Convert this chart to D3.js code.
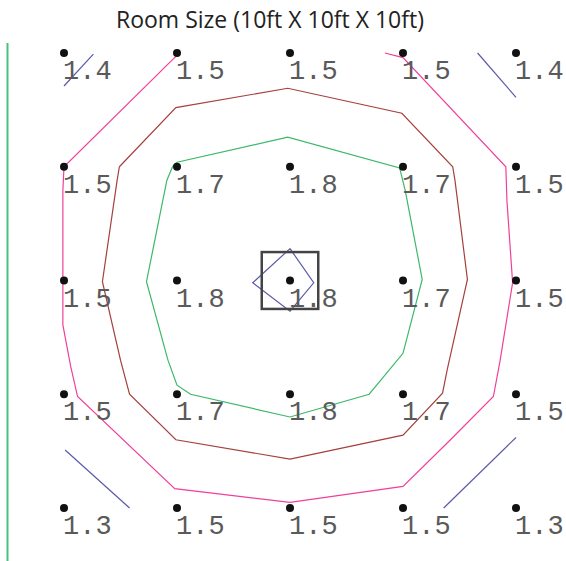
<!DOCTYPE html>
<html>
<head>
<meta charset="utf-8">
<script src="https://cdn.jsdelivr.net/npm/d3@7"></script>
<style>
  body { margin: 0; background: #fff; }
</style>
</head>
<body>
<svg id="chart"></svg>
<script>
// grid of readings, row by row (top to bottom), column by column (left to right)
const cols = [0, 1, 2, 3, 4];
const rows = [0, 1, 2, 3, 4];
const values = [
    [1.4, 1.5, 1.5, 1.5, 1.4],
    [1.5, 1.7, 1.8, 1.7, 1.5],
    [1.5, 1.8, 1.8, 1.7, 1.5],
    [1.5, 1.7, 1.8, 1.7, 1.5],
    [1.3, 1.5, 1.5, 1.5, 1.3]
];

// contour lines, points in grid units [col, row]
const contourLevels = [1.4, 1.5, 1.6, 1.7, 1.8];
const contourColors = ["#5a5aaa", "#f0409a", "#a5403c", "#3cb86a", "#5a5aaa"];
const contour14 = [
    [[0.0, 0.29], [0.26, 0.01]],
    [[3.66, 0.0], [4.0, 0.39]],
    [[0.01, 3.49], [0.58, 4.0]],
    [[3.36, 4.0], [4.0, 3.38]]
];
const contour15 = [
    [[1.01, 0.01], [0.0, 1.0], [-0.01, 1.21], [-0.01, 2.0], [-0.01, 2.39], [0.06, 2.76],
     [0.12, 3.02], [0.98, 3.83], [2.0, 3.95], [3.0, 3.81], [3.42, 3.40], [3.80, 3.02],
     [3.86, 2.70], [3.97, 2.02], [3.92, 1.30], [3.91, 1.0], [3.0, 0.04], [2.84, 0.0]]
];
const contour16 = [
    [[0.49, 1.0], [0.99, 0.48], [1.98, 0.31], [2.99, 0.53], [3.44, 1.0], [3.46, 1.12],
     [3.57, 1.99], [3.39, 2.79], [3.35, 2.99], [3.0, 3.36], [2.0, 3.57], [0.99, 3.40],
     [0.58, 3.0], [0.50, 2.70], [0.34, 2.01], [0.47, 1.12], [0.49, 1.0]]
];
const contour17 = [
    [[0.96, 1.0], [1.0, 0.96], [1.98, 0.74], [2.97, 1.01], [3.02, 1.21], [3.17, 1.99],
     [3.0, 2.64], [2.80, 2.88], [2.70, 3.0], [2.0, 3.20], [1.12, 3.0], [1.0, 2.92],
     [0.92, 2.70], [0.73, 2.01], [0.91, 1.12], [0.96, 1.0]]
];
const contour18 = [
    [[2.0, 1.72], [2.21, 2.02], [2.0, 2.27], [1.67, 2.02], [2.0, 1.72]]
];
const contours = [contour14, contour15, contour16, contour17, contour18];

// marker around the centre reading
const markerCell = [2, 2];
const markerHalf = 0.25;

const titleText = "Room Size (10ft X 10ft X 10ft)";

const width = 566, height = 561;
const svg = d3.select("#chart").attr("width", width).attr("height", height);

const x = d3.scaleLinear().domain([0, 4]).range([64, 516]);
const y = d3.scaleLinear().domain([0, 4]).range([53, 508]);

svg.append("text")
    .attr("x", 270)
    .attr("y", 28)
    .attr("text-anchor", "middle")
    .attr("font-family", "'Open Sans', 'Noto Sans', sans-serif")
    .attr("font-size", 23)
    .attr("fill", "#222")
    .text(titleText);

// green left edge
svg.append("line")
    .attr("x1", 7.5).attr("x2", 7.5)
    .attr("y1", 43).attr("y2", height)
    .attr("stroke", "#4cbf7c")
    .attr("stroke-width", 2);

const line = d3.line().x(d => x(d[0])).y(d => y(d[1]));

svg.append("g")
    .selectAll("g")
    .data(contours)
    .join("g")
    .attr("stroke", (d, i) => contourColors[i])
    .selectAll("path")
    .data(d => d)
    .join("path")
    .attr("d", line)
    .attr("fill", "none")
    .attr("stroke-width", 1.2);

// points and labels
const cells = [];
rows.forEach(r => cols.forEach(c => cells.push({ c, r, v: values[r][c] })));

svg.append("g")
    .selectAll("circle")
    .data(cells)
    .join("circle")
    .attr("cx", d => x(d.c))
    .attr("cy", d => y(d.r))
    .attr("r", 4)
    .attr("fill", "#111");

svg.append("g")
    .selectAll("text")
    .data(cells)
    .join("text")
    .attr("x", d => x(d.c) - 1)
    .attr("y", d => y(d.r) + 26)
    .attr("font-family", "'Liberation Mono', 'Courier New', monospace")
    .attr("font-size", 27)
    .attr("fill", "#5a5a5a")
    .text(d => d3.format(".1f")(d.v));

svg.append("rect")
    .attr("x", x(markerCell[0] - markerHalf))
    .attr("y", y(markerCell[1] - markerHalf))
    .attr("width", x(markerCell[0] + markerHalf) - x(markerCell[0] - markerHalf))
    .attr("height", y(markerCell[1] + markerHalf) - y(markerCell[1] - markerHalf))
    .attr("fill", "none")
    .attr("stroke", "#444")
    .attr("stroke-width", 2.5);
</script>
</body>
</html>
